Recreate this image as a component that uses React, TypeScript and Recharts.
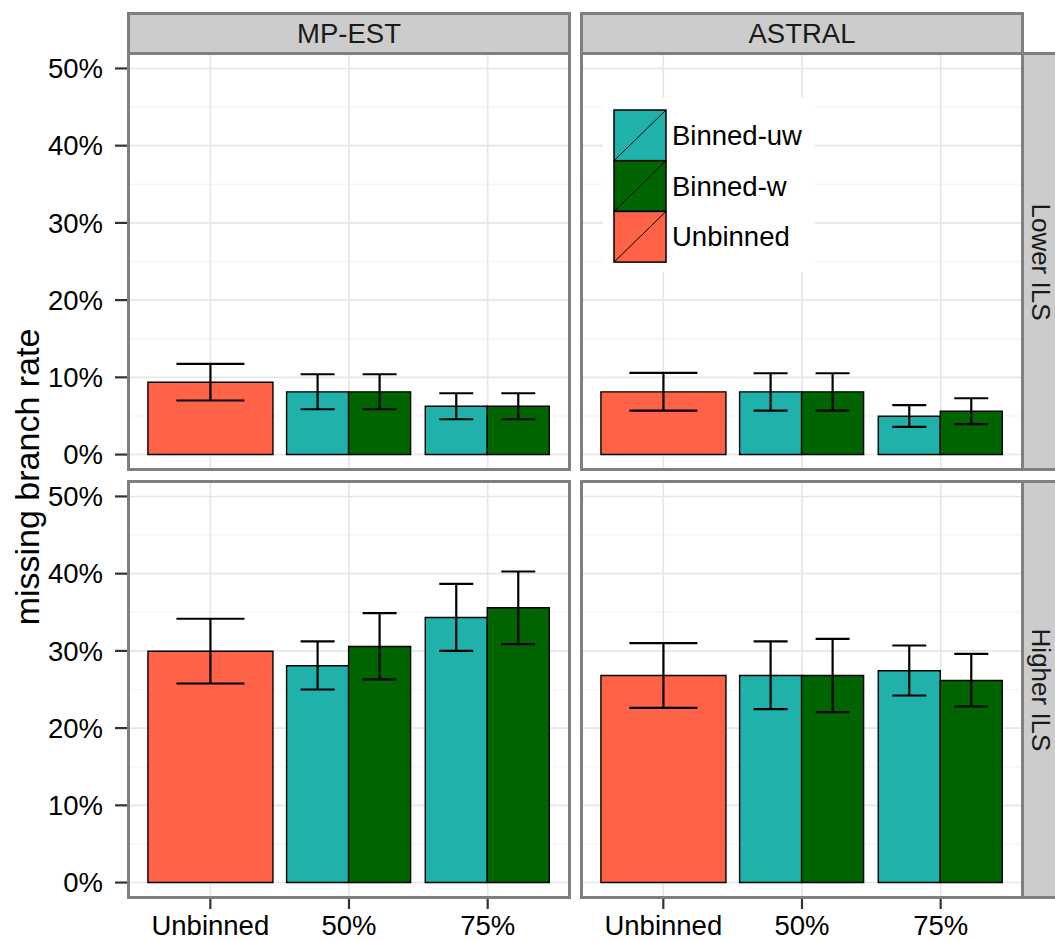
import React from 'react'
import { Bar, BarChart, CartesianGrid, ErrorBar, Legend, ReferenceLine, XAxis, YAxis } from 'recharts'

const categories = ['Unbinned', '50%', '75%']
const methods = ['MP-EST', 'ASTRAL']
const ilsLevels = ['Lower ILS', 'Higher ILS']
const legendOrder = ['Binned-uw', 'Binned-w', 'Unbinned']
const yTicks = [0, 10, 20, 30, 40, 50]
const yMinorTicks = [5, 15, 25, 35, 45]

// each array: Unbinned, 50% uw, 50% w, 75% uw, 75% w  (missing branch rate, %)
const mpestLowerMean = [9.37, 8.12, 8.12, 6.26, 6.26]
const mpestLowerLo = [7.0, 5.87, 5.87, 4.57, 4.57]
const mpestLowerHi = [11.75, 10.4, 10.4, 7.94, 7.94]

const astralLowerMean = [8.12, 8.12, 8.12, 4.96, 5.61]
const astralLowerLo = [5.7, 5.7, 5.7, 3.59, 3.93]
const astralLowerHi = [10.58, 10.53, 10.53, 6.39, 7.29]

const mpestHigherMean = [29.96, 28.07, 30.57, 34.33, 35.58]
const mpestHigherLo = [25.78, 25.0, 26.3, 30.01, 30.87]
const mpestHigherHi = [34.16, 31.22, 34.88, 38.69, 40.28]

const astralHigherMean = [26.81, 26.81, 26.81, 27.42, 26.17]
const astralHigherLo = [22.63, 22.45, 22.06, 24.22, 22.8]
const astralHigherHi = [31.0, 31.22, 31.56, 30.7, 29.62]

const colors: Record<string, string> = {
  'Binned-uw': '#20B2AA',
  'Binned-w': '#006400',
  Unbinned: '#FF6347',
}

const FONT = '"Liberation Sans", Arial, Helvetica, sans-serif'
const FS = 27.5
const BORDER = '#7F7F7F'
const STRIP_BG = '#CCCCCC'

// layout of the facet grid (page pixels)
const colLeft = [128, 581]
const rowTop = [53, 481]
const panelW = 442
const panelH = 417
const yAxisW = 128
const xAxisH = 43

function buildRows(mean: number[], lo: number[], hi: number[]) {
  const err = (i: number) => [mean[i] - lo[i], hi[i] - mean[i]]
  return [
    { cat: categories[0], unbinned: mean[0], unbinnedErr: err(0) },
    { cat: categories[1], uw: mean[1], uwErr: err(1), w: mean[2], wErr: err(2) },
    { cat: categories[2], uw: mean[3], uwErr: err(3), w: mean[4], wErr: err(4) },
  ]
}

const panelRows = [
  [buildRows(mpestLowerMean, mpestLowerLo, mpestLowerHi), buildRows(astralLowerMean, astralLowerLo, astralLowerHi)],
  [buildRows(mpestHigherMean, mpestHigherLo, mpestHigherHi), buildRows(astralHigherMean, astralHigherLo, astralHigherHi)],
]

function LegendBox() {
  const keyH = 50.7
  return (
    <svg width={212} height={174} style={{ display: 'block' }}>
      <rect width={212} height={174} fill="#fff" />
      {legendOrder.map((name, i) => (
        <g key={name} transform={`translate(11, ${12 + i * keyH})`}>
          <rect width={52} height={keyH} fill={colors[name]} stroke="#000" strokeWidth={1.5} />
          <line x1={0} y1={keyH} x2={52} y2={0} stroke="#000" strokeWidth={1} />
          <text x={58} y={keyH / 2} dy="0.35em" fontSize={FS} fontFamily={FONT} fill="#000">
            {name}
          </text>
        </g>
      ))}
    </svg>
  )
}

function Panel({ row, col }: { row: number; col: number }) {
  const rows = panelRows[row][col]
  const showY = col === 0
  const showX = row === 1
  const width = panelW + (showY ? yAxisW : 0)
  const height = panelH + (showX ? xAxisH : 0)
  const tickStyle = { fontSize: FS, fill: '#000', fontFamily: FONT }
  return (
    <div style={{ position: 'absolute', left: colLeft[col] - (showY ? yAxisW : 0), top: rowTop[row] }}>
      <BarChart
        width={width}
        height={height}
        data={rows}
        margin={{ top: 0, right: 0, bottom: 0, left: 0 }}
        barCategoryGap="5%"
        barGap={0}
      >
        <CartesianGrid vertical={false} stroke="#F6F6F6" strokeWidth={1.6} horizontalValues={yMinorTicks} />
        <CartesianGrid vertical={false} stroke="#E6E6E6" strokeWidth={1.6} horizontalValues={yTicks} />
        <XAxis
          xAxisId="main"
          dataKey="cat"
          hide={!showX}
          height={xAxisH}
          padding={{ left: 13, right: 13 }}
          interval={0}
          axisLine={false}
          tickLine={{ stroke: '#333', strokeWidth: 2.2 }}
          tickSize={11}
          tickMargin={6}
          tick={tickStyle}
        />
        <XAxis xAxisId="solo" dataKey="cat" hide padding={{ left: 13, right: 13 }} />
        <YAxis
          domain={[-2, 52]}
          allowDataOverflow
          ticks={yTicks}
          interval={0}
          hide={!showY}
          width={yAxisW}
          tickFormatter={(v) => `${v}%`}
          axisLine={false}
          tickLine={{ stroke: '#333', strokeWidth: 2.2 }}
          tickSize={13}
          tickMargin={12}
          tick={tickStyle}
        />
        {categories.map((c) => (
          <ReferenceLine key={c} xAxisId="main" x={c} stroke="#E6E6E6" strokeWidth={1.6} zIndex={-90} />
        ))}
        <Bar xAxisId="solo" dataKey="unbinned" name="Unbinned" fill={colors.Unbinned} stroke="#000" strokeWidth={1.4} isAnimationActive={false}>
          <ErrorBar dataKey="unbinnedErr" width={34} stroke="#000" strokeWidth={2.2} isAnimationActive={false} />
        </Bar>
        <Bar xAxisId="main" dataKey="uw" name="Binned-uw" fill={colors['Binned-uw']} stroke="#000" strokeWidth={1.4} isAnimationActive={false}>
          <ErrorBar dataKey="uwErr" width={17} stroke="#000" strokeWidth={2.2} isAnimationActive={false} />
        </Bar>
        <Bar xAxisId="main" dataKey="w" name="Binned-w" fill={colors['Binned-w']} stroke="#000" strokeWidth={1.4} isAnimationActive={false}>
          <ErrorBar dataKey="wErr" width={17} stroke="#000" strokeWidth={2.2} isAnimationActive={false} />
        </Bar>
        {row === 0 && col === 1 && (
          <Legend
            layout="vertical"
            align="center"
            verticalAlign="middle"
            content={() => <LegendBox />}
            wrapperStyle={{ left: 22, top: 45, width: 212, height: 174 }}
          />
        )}
      </BarChart>
    </div>
  )
}

export default function App() {
  return (
    <div
      style={{
        position: 'absolute',
        left: 0,
        top: 0,
        width: 1055,
        height: 941,
        background: '#fff',
        overflow: 'hidden',
        fontFamily: FONT,
        color: '#1A1A1A',
      }}
    >
      {[0, 1].map((r) => [0, 1].map((c) => <Panel key={`${r}-${c}`} row={r} col={c} />))}

      {/* panel borders */}
      {[0, 1].map((r) =>
        [0, 1].map((c) => (
          <div
            key={`b-${r}-${c}`}
            style={{
              position: 'absolute',
              left: colLeft[c] - 1,
              top: rowTop[r] - 1,
              width: panelW + 2,
              height: panelH + 2,
              border: `3px solid ${BORDER}`,
              boxSizing: 'border-box',
              pointerEvents: 'none',
            }}
          />
        )),
      )}

      {/* column strips */}
      {methods.map((m, c) => (
        <div
          key={m}
          style={{
            position: 'absolute',
            left: colLeft[c] - 1,
            top: 12,
            width: panelW + 2,
            height: 43,
            background: STRIP_BG,
            border: `3px solid ${BORDER}`,
            boxSizing: 'border-box',
            display: 'flex',
            alignItems: 'center',
            justifyContent: 'center',
            fontSize: FS,
          }}
        >
          {m}
        </div>
      ))}

      {/* row strips (cut by the right edge, as in the original) */}
      {ilsLevels.map((lvl, r) => (
        <div
          key={lvl}
          style={{
            position: 'absolute',
            left: 1021,
            top: rowTop[r] - 1,
            width: 34,
            height: panelH + 2,
            background: STRIP_BG,
            borderTop: `3px solid ${BORDER}`,
            borderBottom: `3px solid ${BORDER}`,
            borderLeft: `3px solid ${BORDER}`,
            boxSizing: 'border-box',
          }}
        >
          <div
            style={{
              position: 'absolute',
              left: 16.5,
              top: panelH / 2 - 2,
              transform: 'translate(-50%, -50%) rotate(90deg)',
              whiteSpace: 'nowrap',
              fontSize: 26,
              lineHeight: 1,
            }}
          >
            {lvl}
          </div>
        </div>
      ))}

      {/* y axis title */}
      <div
        style={{
          position: 'absolute',
          left: 27,
          top: 477,
          transform: 'translate(-50%, -50%) rotate(-90deg)',
          whiteSpace: 'nowrap',
          fontSize: 34,
          lineHeight: 1,
          color: '#000',
        }}
      >
        missing branch rate
      </div>
    </div>
  )
}
